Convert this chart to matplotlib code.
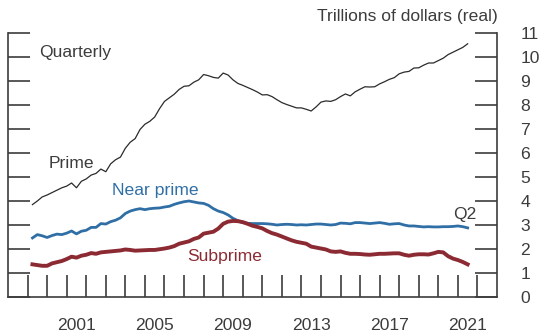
import numpy as np
import matplotlib.pyplot as plt

plt.rcParams['font.family'] = ['Liberation Sans', 'DejaVu Sans']

# Quarterly, 1999:Q1 through 2021:Q2 (trillions of real dollars)
start_year = 1999
prime = [3.85, 4.00, 4.17, 4.25, 4.35, 4.45, 4.55, 4.62, 4.75, 4.55,
         4.82, 4.92, 5.08, 5.15, 5.33, 5.22, 5.55, 5.72, 5.83, 6.20,
         6.45, 6.60, 6.98, 7.20, 7.32, 7.50, 7.85, 8.15, 8.30, 8.45,
         8.65, 8.78, 8.80, 8.95, 9.05, 9.27, 9.22, 9.15, 9.12, 9.33,
         9.25, 9.05, 8.90, 8.82, 8.73, 8.64, 8.54, 8.42, 8.43, 8.35,
         8.22, 8.10, 8.02, 7.95, 7.88, 7.88, 7.82, 7.75, 7.92, 8.12,
         8.17, 8.15, 8.22, 8.35, 8.46, 8.38, 8.55, 8.66, 8.76, 8.75,
         8.76, 8.88, 8.97, 9.07, 9.14, 9.30, 9.37, 9.40, 9.54, 9.55,
         9.66, 9.75, 9.75, 9.85, 9.95, 10.10, 10.20, 10.30, 10.40, 10.55]
near_prime = [2.46, 2.60, 2.55, 2.48, 2.56, 2.62, 2.60, 2.66, 2.75, 2.63,
              2.74, 2.78, 2.90, 2.90, 3.06, 3.04, 3.14, 3.20, 3.30, 3.48,
              3.58, 3.64, 3.68, 3.64, 3.68, 3.70, 3.71, 3.75, 3.78, 3.86,
              3.92, 3.97, 4.00, 3.96, 3.92, 3.90, 3.82, 3.68, 3.58, 3.52,
              3.42, 3.28, 3.18, 3.10, 3.07, 3.06, 3.06, 3.06, 3.05, 3.03,
              3.00, 3.02, 3.03, 3.02, 3.00, 3.01, 3.00, 3.02, 3.04, 3.04,
              3.02, 3.00, 3.02, 3.08, 3.07, 3.05, 3.10, 3.10, 3.08, 3.06,
              3.08, 3.10, 3.07, 3.03, 3.05, 3.06, 3.00, 2.96, 2.96, 2.94,
              2.92, 2.93, 2.92, 2.92, 2.93, 2.93, 2.94, 2.96, 2.93, 2.88]
subprime = [1.36, 1.33, 1.30, 1.30, 1.40, 1.45, 1.50, 1.58, 1.68, 1.64,
            1.72, 1.76, 1.83, 1.80, 1.86, 1.88, 1.90, 1.92, 1.94, 1.98,
            1.96, 1.93, 1.94, 1.95, 1.96, 1.96, 1.99, 2.02, 2.06, 2.12,
            2.22, 2.27, 2.32, 2.42, 2.48, 2.64, 2.68, 2.72, 2.85, 3.05,
            3.14, 3.17, 3.16, 3.12, 3.05, 2.97, 2.92, 2.86, 2.75, 2.66,
            2.60, 2.52, 2.44, 2.36, 2.30, 2.26, 2.22, 2.10, 2.06, 2.02,
            1.98, 1.90, 1.88, 1.90, 1.84, 1.80, 1.80, 1.79, 1.77, 1.76,
            1.78, 1.80, 1.80, 1.81, 1.82, 1.82, 1.76, 1.72, 1.76, 1.78,
            1.78, 1.77, 1.82, 1.88, 1.86, 1.70, 1.60, 1.54, 1.46, 1.36]

year_labels = ['2001', '2005', '2009', '2013', '2017', '2021']

n = len(prime)
t = start_year + (np.arange(n) + 1) / 4.0

txt = '#3c3c3c'
fs = 12.6
fig = plt.figure(figsize=(5.39, 3.35), dpi=100)
ax = fig.add_axes([8 / 539, 38 / 335, 489 / 539, 264 / 335])

ax.plot(t, prime, color='#2b2b2b', lw=0.9)
ax.plot(t, near_prime, color='#2f6fa6', lw=2.0)
ax.plot(t, subprime, color='#8c2a33', lw=2.8)

ax.set_xlim(1998, 2023)
ax.set_ylim(0, 11)

for s in ['left', 'right', 'bottom']:
    ax.spines[s].set_color(txt)
    ax.spines[s].set_linewidth(1.2)
ax.spines['top'].set_visible(False)

# year ticks on boundaries, labels centred within the year
ax.set_xticks(np.arange(1999, 2023))
ax.set_xticklabels([])
ax.set_xticks([int(y) + 0.5 for y in year_labels], minor=True)
ax.set_xticklabels(year_labels, minor=True)
ax.tick_params(axis='x', which='major', direction='in', length=16, width=1.2,
               color=txt)
ax.tick_params(axis='x', which='minor', length=0, pad=15, labelsize=fs,
               labelcolor=txt)

ax.set_yticks(np.arange(0, 12))
ax.yaxis.set_ticks_position('both')
ax.tick_params(axis='y', which='major', direction='in', length=16, width=1.2,
               color=txt, labelleft=False, labelright=True, labelsize=fs,
               labelcolor=txt, pad=17)
ax.set_yticks([11], minor=True)
ax.tick_params(axis='y', which='minor', direction='in', length=33, width=1.2,
               color=txt, labelleft=False, labelright=False)
for lab in ax.get_yticklabels():
    lab.set_horizontalalignment('left')

ax.text(1999.6, 10.2, 'Quarterly', fontsize=fs, color=txt, va='center')
ax.text(2000.1, 5.55, 'Prime', fontsize=fs, color=txt, va='center')
ax.text(2003.3, 4.45, 'Near prime', fontsize=fs, color='#2f6fa6', va='center')
ax.text(2007.15, 1.68, 'Subprime', fontsize=fs, color='#8c2a33', va='center')
ax.text(2020.75, 3.45, 'Q2', fontsize=fs, color=txt, va='center')
fig.text(498 / 539, 1 - 17 / 335, 'Trillions of dollars (real)', fontsize=fs,
         color=txt, ha='right', va='center')

fig.savefig('out.png', dpi=100)
